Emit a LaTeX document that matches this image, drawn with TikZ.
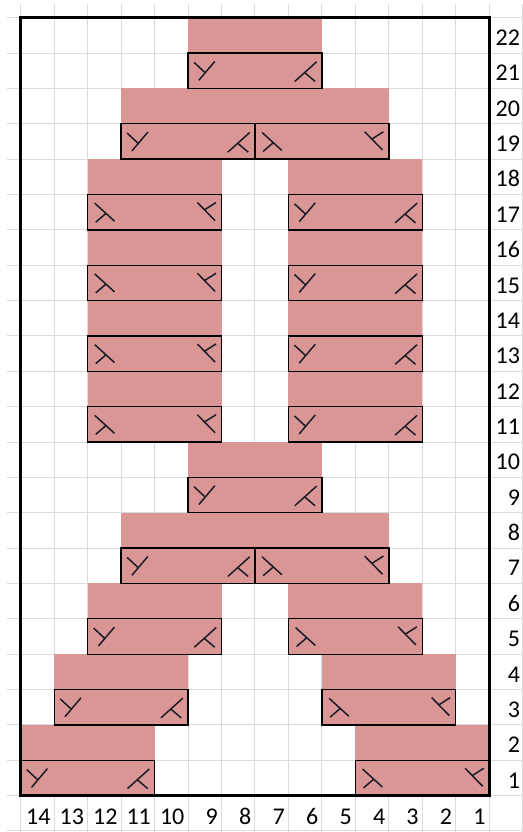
\documentclass[tikz,border=0pt]{standalone}
\usepackage{fontspec}
\setmainfont{Carlito}
\begin{document}
\begin{tikzpicture}[x=33.47pt,y=35.36pt,
  gridl/.style={draw=gridc,line width=1pt},
  pinkfill/.style={fill=pinkc},
  boxl/.style={draw=black,line width=1.3pt},
  sym/.style={draw=inkc,line width=1.5pt},
  num/.style={font=\fontsize{24}{28}\selectfont,text=black,inner sep=0pt},
  frame/.style={draw=black,line width=2.6pt}]
\definecolor{pinkc}{RGB}{217,150,148}
\definecolor{gridc}{RGB}{216,218,220}
\definecolor{inkc}{RGB}{28,28,40}
\path[use as bounding box] (-0.6185,-1.029) rectangle (15.0075,22.5006);
% grid
\foreach \i in {0,...,15} \draw[gridl] (\i,-1.03) -- (\i,22.39);
\foreach \j in {-1,...,22} \draw[gridl] (-0.41,\j) -- (15.01,\j);
% pink cells
\foreach \r/\a/\b in {22/9/6,21/9/6,20/11/4,19/11/4,
  18/12/9,18/6/3,17/12/9,17/6/3,16/12/9,16/6/3,15/12/9,15/6/3,
  14/12/9,14/6/3,13/12/9,13/6/3,12/12/9,12/6/3,11/12/9,11/6/3,
  10/9/6,9/9/6,8/11/4,7/11/4,6/12/9,6/6/3,5/12/9,5/6/3,
  4/13/10,4/5/2,3/13/10,3/5/2,2/14/11,2/4/1,1/14/11,1/4/1}
  \fill[pinkfill] ({14-\a},{\r-1}) rectangle ({15-\b},\r);
% cable boxes, type L (Y ... A)
\foreach \r/\a/\b in {21/9/6,19/11/8,17/6/3,15/6/3,13/6/3,11/6/3,9/9/6,7/11/8,5/12/9,3/13/10,1/14/11}{
  \draw[boxl] ({14-\a},{\r-1}) rectangle ({15-\b},\r);
  \begin{scope}[shift={({14-\a},\r)},x=1pt,y=-1pt]
    \draw[sym] (26.8,8.3) -- (10.8,27.2) (6,9.3) -- (17,19.5);
  \end{scope}
  \begin{scope}[shift={({14-\b},\r)},x=1pt,y=-1pt]
    \draw[sym] (28.2,8.7) -- (6.3,28.4) (16.3,19.6) -- (26.7,28.4);
  \end{scope}
}
% cable boxes, type R (lambda ... K)
\foreach \r/\a/\b in {19/7/4,17/12/9,15/12/9,13/12/9,11/12/9,7/7/4,5/6/3,3/5/2,1/4/1}{
  \draw[boxl] ({14-\a},{\r-1}) rectangle ({15-\b},\r);
  \begin{scope}[shift={({14-\a},\r)},x=1pt,y=-1pt]
    \draw[sym] (7.1,8.7) -- (26.9,26.7) (18.3,18.9) -- (8.1,27.7);
  \end{scope}
  \begin{scope}[shift={({14-\b},\r)},x=1pt,y=-1pt]
    \draw[sym] (9.3,8.0) -- (27,26.1) (16.2,15.5) -- (28,8.0);
  \end{scope}
}
% frame
\draw[frame] (0,0) rectangle (14,22);
% row numbers
\foreach \r in {1,...,22}
  \node[num,anchor=base east,xshift=-2.5pt,yshift=7.5pt] (r\r) at (15,{\r-1}) {\r};
% column numbers
\foreach \k in {1,...,14}
  \node[num,anchor=base east,xshift=-3.5pt,yshift=6.5pt] (c\k) at ({15-\k},-1) {\k};
\end{tikzpicture}
\end{document}
